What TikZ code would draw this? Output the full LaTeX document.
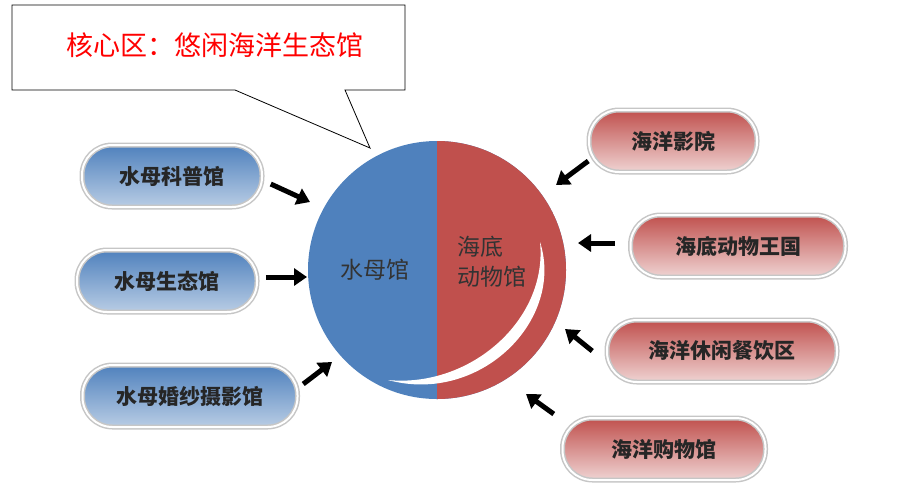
\documentclass[tikz,border=0pt]{standalone}
\usepackage{fontspec}
\newfontfamily\cjk{Noto Sans CJK SC}
\usetikzlibrary{arrows.meta}
\definecolor{hblue}{HTML}{4F81BD}
\definecolor{hred}{HTML}{C0504D}
\tikzset{bluepill/.style={rounded corners=30pt, top color=hblue, bottom color=hblue!40, draw=gray!45, line width=1.5pt, double=white, double distance=2pt, minimum height=62pt, font=\cjk\fontsize{21}{24}\selectfont\bfseries, text=black!85}}
\tikzset{redpill/.style={bluepill, top color=hred, bottom color=hred!25}}
\tikzset{bigarrow/.style={line width=5pt, -{Triangle[length=13pt,width=17pt]}}}
\begin{document}
\begin{tikzpicture}[x=1pt,y=-1pt]
\useasboundingbox (0,0) rectangle (904,491);
% callout
\draw[fill=white, thick] (12,5) -- (405,5) -- (405,90) -- (345,90) -- (370,148) -- (235,90) -- (12,90) -- cycle;
\node (title) [font=\cjk\fontsize{27}{30}\selectfont, text=red] at (215,45) {核心区：悠闲海洋生态馆};
% circle
\fill[hblue] (437,270) circle[radius=129];
\begin{scope}
\clip (437,130) rectangle (580,410);
\fill[hred] (437,270) circle[radius=129];
\end{scope}
\fill[white] (540,242) .. controls (565,320) and (480,405) .. (388,380)
  .. controls (470,388) and (548,320) .. (540,242) -- cycle;
\node (hub) at (437,270) {};
\node (jelly) [font=\cjk\fontsize{23}{26}\selectfont, text=black!80] at (375,270) {水母馆};
\node (sea) [font=\cjk\fontsize{23}{30}\selectfont, text=black!80, align=left] at (492,262) {海底\\动物馆};
% pills
\node (p1) [bluepill, minimum width=180pt] at (172,176) {水母科普馆};
\node (p2) [bluepill, minimum width=180pt] at (167,281) {水母生态馆};
\node (p3) [bluepill, minimum width=215pt] at (190,396) {水母婚纱摄影馆};
\node (q1) [redpill, minimum width=168pt] at (673,141) {海洋影院};
\node (q2) [redpill, minimum width=215pt] at (738,246) {海底动物王国};
\node (q3) [redpill, minimum width=230pt] at (722,351) {海洋休闲餐饮区};
\node (q4) [redpill, minimum width=203pt] at (664,449) {海洋购物馆};
% arrows
\coordinate (a1) at (310,202); \coordinate (a2) at (307,277); \coordinate (a3) at (332,362);
\coordinate (b1) at (556,185); \coordinate (b2) at (578,243); \coordinate (b3) at (565,329); \coordinate (b4) at (526,394);
\draw[bigarrow] (p1.east) ++(8,8) -- (a1);
\draw[bigarrow] (p2.east) ++(8,-4) -- (a2);
\draw[bigarrow] (p3.east) ++(5,-12) -- (a3);
\draw[bigarrow] (q1.west) ++(0,20) -- (b1);
\draw[bigarrow] (q2.west) ++(-15,-3) -- (b2);
\draw[bigarrow] (q3.west) ++(-14,0) -- (b3);
\draw[bigarrow] (q4.west) ++(-8,-35) -- (b4);
\end{tikzpicture}
\end{document}
